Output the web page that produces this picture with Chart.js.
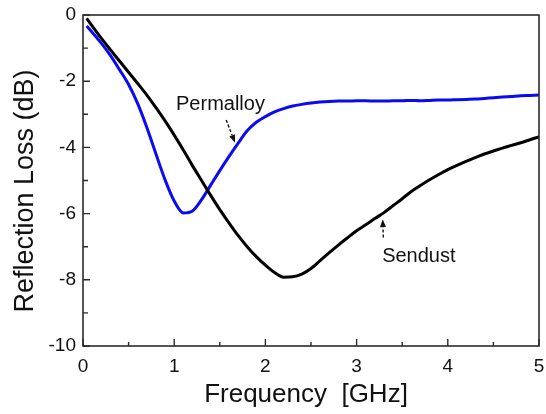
<!DOCTYPE html>
<html>
<head>
<meta charset="utf-8">
<script src="https://cdn.jsdelivr.net/npm/chart.js@4/dist/chart.umd.min.js"></script>
<style>
  html, body { margin: 0; padding: 0; background: #fff; }
  #wrap { width: 546px; height: 414px; }
</style>
</head>
<body>
<div id="wrap"><canvas id="chart" width="546" height="414"></canvas></div>
<script>
// Reflection loss vs frequency
var freq = [0.04, 0.1, 0.2, 0.3, 0.4, 0.5, 0.6, 0.7, 0.8, 0.9,
  1.0, 1.1, 1.2, 1.3, 1.4, 1.5, 1.6, 1.7, 1.8, 1.9,
  2.0, 2.1, 2.2, 2.3, 2.4, 2.5, 2.6, 2.7, 2.8, 2.9,
  3.0, 3.1, 3.2, 3.3, 3.4, 3.5, 3.6, 3.7, 3.8, 3.9,
  4.0, 4.1, 4.2, 4.3, 4.4, 4.5, 4.6, 4.7, 4.8, 4.9, 5.0];

var sendust = [-0.10, -0.33, -0.70, -1.05, -1.39, -1.73, -2.07, -2.42, -2.80, -3.20,
  -3.63, -4.08, -4.55, -5.00, -5.45, -5.88, -6.28, -6.66, -7.00, -7.30,
  -7.56, -7.78, -7.92, -7.91, -7.83, -7.66, -7.42, -7.18, -6.95, -6.73,
  -6.52, -6.34, -6.15, -5.97, -5.76, -5.55, -5.33, -5.15, -4.98, -4.82,
  -4.67, -4.54, -4.42, -4.31, -4.20, -4.11, -4.02, -3.94, -3.86, -3.77, -3.68];

var permalloy = [-0.33, -0.52, -0.85, -1.22, -1.65, -2.10, -2.68, -3.40, -4.20, -4.98,
  -5.62, -5.98, -5.92, -5.58, -5.14, -4.70, -4.28, -3.88, -3.50, -3.24,
  -3.07, -2.93, -2.83, -2.75, -2.70, -2.66, -2.63, -2.61, -2.60, -2.60,
  -2.59, -2.59, -2.60, -2.60, -2.59, -2.59, -2.58, -2.59, -2.58, -2.57,
  -2.57, -2.56, -2.55, -2.54, -2.52, -2.50, -2.48, -2.46, -2.44, -2.43, -2.42];

var xTicks = [0, 1, 2, 3, 4, 5];
var yTicks = [0, -2, -4, -6, -8, -10];

var FONT = "'Liberation Sans', Arial, Helvetica, sans-serif";

function toPoints(xs, ys) {
  return xs.map(function(x, i) { return { x: x, y: ys[i] }; });
}

// frame, inward ticks, axis titles and the two labels with arrows
var decorPlugin = {
  id: "decor",
  afterDraw: function(chart) {
    var ctx = chart.ctx;
    var a = chart.chartArea;
    var xs = chart.scales.x, ys = chart.scales.y;
    ctx.save();

    ctx.strokeStyle = "#2b2b2b";
    ctx.lineWidth = 1.6;
    ctx.strokeRect(a.left, a.top, a.right - a.left, a.bottom - a.top);

    ctx.lineWidth = 1.4;
    ctx.beginPath();
    for (var v = 0; v <= 5.001; v += 0.5) {
      var px = xs.getPixelForValue(v);
      var len = Math.abs(v - Math.round(v)) < 0.01 ? 7 : 4;
      ctx.moveTo(px, a.bottom);
      ctx.lineTo(px, a.bottom - len);
    }
    for (var w = 0; w >= -10; w -= 1) {
      var py = ys.getPixelForValue(w);
      var l2 = w % 2 === 0 ? 7 : 5;
      ctx.moveTo(a.left, py);
      ctx.lineTo(a.left + l2, py);
    }
    ctx.stroke();

    // axis titles
    ctx.fillStyle = "#111";
    ctx.font = "26px " + FONT;
    ctx.textAlign = "center";
    ctx.textBaseline = "middle";
    ctx.fillText("Frequency  [GHz]", 306, 395);
    ctx.save();
    ctx.translate(26, 191);
    ctx.rotate(-Math.PI / 2);
    ctx.font = "27px " + FONT;
    ctx.fillText("Reflection Loss (dB)", 0, 0);
    ctx.restore();

    // curve labels
    ctx.font = "20px " + FONT;
    ctx.textAlign = "left";
    ctx.textBaseline = "alphabetic";
    ctx.fillText("Permalloy", xs.getPixelForValue(1.02), ys.getPixelForValue(-2.87));
    ctx.fillText("Sendust", xs.getPixelForValue(3.28), ys.getPixelForValue(-7.45));

    drawArrow(ctx, xs.getPixelForValue(1.57), ys.getPixelForValue(-3.17),
      xs.getPixelForValue(1.667), ys.getPixelForValue(-3.86));
    drawArrow(ctx, xs.getPixelForValue(3.293), ys.getPixelForValue(-6.72),
      xs.getPixelForValue(3.286), ys.getPixelForValue(-6.17));

    ctx.restore();
  }
};

function drawArrow(ctx, x1, y1, x2, y2) {
  var ang = Math.atan2(y2 - y1, x2 - x1);
  var head = 8;
  var bx = x2 - head * Math.cos(ang), by = y2 - head * Math.sin(ang);
  ctx.save();
  ctx.strokeStyle = "#111";
  ctx.fillStyle = "#111";
  ctx.lineWidth = 1.4;
  ctx.setLineDash([3, 2]);
  ctx.beginPath();
  ctx.moveTo(x1, y1);
  ctx.lineTo(bx, by);
  ctx.stroke();
  ctx.setLineDash([]);
  ctx.beginPath();
  ctx.moveTo(x2, y2);
  ctx.lineTo(bx + 3 * Math.sin(ang), by - 3 * Math.cos(ang));
  ctx.lineTo(bx - 3 * Math.sin(ang), by + 3 * Math.cos(ang));
  ctx.closePath();
  ctx.fill();
  ctx.restore();
}

var ctx = document.getElementById("chart").getContext("2d");
var chart = new Chart(ctx, {
  type: "scatter",
  data: {
    datasets: [
      {
        label: "Sendust",
        data: toPoints(freq, sendust),
        showLine: true,
        borderColor: "#000000",
        borderWidth: 3,
        pointRadius: 0,
        cubicInterpolationMode: "monotone"
      },
      {
        label: "Permalloy",
        data: toPoints(freq, permalloy),
        showLine: true,
        borderColor: "#0a0af5",
        borderWidth: 3,
        pointRadius: 0,
        cubicInterpolationMode: "monotone"
      }
    ]
  },
  options: {
    responsive: false,
    animation: false,
    layout: { padding: { top: 15, right: 7, left: 0, bottom: 0 } },
    plugins: {
      legend: { display: false },
      tooltip: { enabled: false }
    },
    scales: {
      x: {
        type: "linear",
        min: 0,
        max: 5,
        grid: { display: false, drawTicks: false },
        border: { display: false },
        afterBuildTicks: function(scale) {
          scale.ticks = xTicks.map(function(v) { return { value: v }; });
        },
        afterFit: function(scale) {
          scale.height = 68;
          scale.paddingLeft = 0;
          scale.paddingRight = 0;
        },
        ticks: {
          padding: 9,
          color: "#111",
          font: { family: FONT, size: 19 }
        }
      },
      y: {
        type: "linear",
        min: -10,
        max: 0,
        grid: { display: false, drawTicks: false },
        border: { display: false },
        afterBuildTicks: function(scale) {
          scale.ticks = yTicks.map(function(v) { return { value: v }; });
        },
        afterFit: function(scale) {
          scale.width = 83;
          scale.paddingTop = 0;
          scale.paddingBottom = 0;
        },
        ticks: {
          padding: 7,
          color: "#111",
          font: { family: FONT, size: 19 }
        }
      }
    }
  },
  plugins: [decorPlugin]
});
</script>
</body>
</html>
